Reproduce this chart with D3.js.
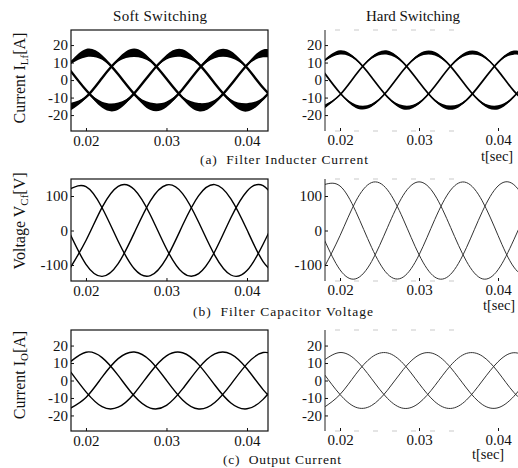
<!DOCTYPE html>
<meta charset="utf-8">
<style>
  body { margin: 0; background: #fff; }
  svg { display: block; }
  text { font-family: "Liberation Serif", "Times New Roman", "DejaVu Serif", serif; fill: #111; }
  .axis line { stroke: #111; }
  .title { font-size: 15px; }
  .caption { font-size: 13.5px; }
  .ylabel { font-size: 16px; }
  .tsec { font-size: 14.5px; }
</style>
<body>
<script src="https://d3js.org/d3.v7.min.js"></script>
<script>
  // sample times [s], values every 2 ms
  var times = [0.018, 0.020, 0.022, 0.024, 0.026, 0.028, 0.030, 0.032, 0.034, 0.036, 0.038, 0.040, 0.042, 0.044];

  // (a) filter inductor current [A]
  var softIlf = [
    [9.6, 15.4, 12.9, 3.3, -8.0, -15.0, -13.9, -5.2, 6.3, 14.4, 14.6, 7.0, -4.4, -13.5],
    [-15.4, -9.8, 1.2, 11.5, 15.6, 11.2, 0.7, -10.1, -15.5, -12.5, -2.7, 8.6, 15.2, 13.5],
    [5.8, -5.7, -14.1, -14.9, -7.6, 3.8, 13.1, 15.3, 9.2, -1.9, -12.0, -15.6, -10.7, -0.1]
  ];
  var hardIlf = [
    [11.1, 15.8, 11.9, 1.6, -9.6, -15.6, -13.1, -3.5, 8.0, 15.1, 14.1, 5.4, -6.2, -14.5],
    [-15.3, -8.4, 3.0, 12.8, 15.7, 10.0, -1.1, -11.6, -15.8, -11.5, -0.9, 10.1, 15.7, 12.7],
    [4.2, -7.4, -14.9, -14.4, -6.1, 5.6, 14.2, 15.1, 7.8, -3.7, -13.2, -15.6, -9.5, 1.7]
  ];
  // switching ripple of the inductor current at the peaks [A]
  var ilfRipple = [2.4, 1.2];

  // (b) filter capacitor voltage [V]
  var softVcf = [
    [120, 127, 66, -31, -111, -131, -80, 15, 101, 133, 92, 2, -90, -133],
    [-110, -29, 67, 128, 119, 45, -53, -122, -125, -61, 37, 114, 130, 75],
    [-9, -98, -133, -96, -7, 86, 132, 107, 24, -72, -129, -116, -40, 58]
  ];
  var hardVcf = [
    [133, 129, 55, -49, -126, -135, -71, 32, 117, 139, 86, -14, -106, -141],
    [-107, -15, 85, 139, 118, 33, -70, -135, -127, -50, 54, 129, 133, 66],
    [-26, -114, -140, -90, 8, 102, 141, 103, 9, -89, -140, -114, -27, 75]
  ];

  // (c) output current [A]
  var softIo = [
    [10.5, 16.2, 13.1, 2.9, -8.9, -15.8, -14.2, -4.8, 7.1, 15.2, 15.1, 6.7, -5.2, -14.4],
    [-16.0, -9.7, 1.9, 12.5, 16.3, 11.3, 0.1, -11.1, -16.3, -12.6, -2.2, 9.5, 16.0, 13.8],
    [5.5, -6.5, -15.0, -15.3, -7.4, 4.6, 14.1, 15.9, 9.1, -2.6, -12.9, -16.2, -10.8, 0.5]
  ];
  var hardIo = [
    [11.7, 16.0, 11.7, 1.0, -10.2, -15.9, -12.9, -3.0, 8.6, 15.5, 14.0, 4.9, -6.8, -14.9],
    [-15.3, -8.0, 3.6, 13.3, 15.8, 9.7, -1.7, -12.1, -16.0, -11.2, -0.3, 10.7, 15.9, 12.5],
    [3.6, -8.0, -15.3, -14.3, -5.6, 6.2, 14.6, 15.1, 7.4, -4.3, -13.7, -15.6, -9.1, 2.3]
  ];

  var currentTicks = [-20, -10, 0, 10, 20];
  var voltageTicks = [-100, 0, 100];
  var timeTicks = [0.02, 0.03, 0.04];

  var titles = ["Soft Switching", "Hard Switching"];
  var captions = ["(a)  Filter Inducter Current", "(b)  Filter Capacitor Voltage", "(c)  Output Current"];

  var rows = [
    {top: 30, bottom: 131, yDomain: [-29.1, 28.6], yTicks: currentTicks, series: [softIlf, hardIlf], ripple: ilfRipple,
     width: [2.4, 1.7], color: ["#000", "#000"],
     label: ["Current I", "Lf", "[A]"], labelY: 78,
     capX: 200, capY: 164, capW: 168, tX: 481, tY: 161},
    {top: 179, bottom: 281, yDomain: [-146.4, 149.3], yTicks: voltageTicks, series: [softVcf, hardVcf], ripple: null,
     width: [1.4, 1.0], color: ["#000", "#333"],
     label: ["Voltage V", "Cf", "[V]"], labelY: 221,
     capX: 193, capY: 316, capW: 180, tX: 483, tY: 310},
    {top: 330, bottom: 431, yDomain: [-28.9, 28.9], yTicks: currentTicks, series: [softIo, hardIo], ripple: null,
     width: [1.4, 1.0], color: ["#000", "#333"],
     label: ["Current I", "O", "[A]"], labelY: 375,
     capX: 223, capY: 464, capW: 118, tX: 472, tY: 459}
  ];

  var cols = [
    {left: 71, right: 268, xDomain: [0.01814, 0.04261], framed: true, titleX: 160, pad: 4.3},
    {left: 325, right: 518, xDomain: [0.0181, 0.04253], framed: false, titleX: 413, pad: 3.3}
  ];

  var svg = d3.select("body").append("svg")
          .attr("width", 518)
          .attr("height", 468);

  cols.forEach(function (c, ci) {
    svg.append("text").attr("class", "title")
            .attr("x", c.titleX).attr("y", 21)
            .attr("text-anchor", "middle")
            .attr("textLength", 94).attr("lengthAdjust", "spacing")
            .text(titles[ci]);
  });

  rows.forEach(function (row, ri) {
    cols.forEach(function (col, ci) {
      var x = d3.scaleLinear().domain(col.xDomain).range([col.left, col.right]);
      var y = d3.scaleLinear().domain(row.yDomain).range([row.bottom, row.top]);

      var id = "clip" + ri + ci;
      svg.append("clipPath").attr("id", id).append("rect")
              .attr("x", col.left).attr("y", row.top)
              .attr("width", col.right - col.left).attr("height", row.bottom - row.top);
      var g = svg.append("g").attr("clip-path", "url(#" + id + ")");

      var data = row.series[ci];
      var peak = d3.max(data, function (s) { return d3.max(s, function (v) { return Math.abs(v); }); });
      var rip = row.ripple ? row.ripple[ci] : 0;

      data.forEach(function (s) {
        var pts = s.map(function (v, i) {
          return {t: times[i], v: v, r: rip * Math.pow(Math.abs(v) / peak, 3)};
        });
        if (rip) {
          g.append("path").datum(pts)
                  .attr("fill", "#000")
                  .attr("d", d3.area().curve(d3.curveNatural)
                          .x(function (d) { return x(d.t); })
                          .y0(function (d) { return y(d.v - d.r); })
                          .y1(function (d) { return y(d.v + d.r); }));
        }
        g.append("path").datum(pts)
                .attr("fill", "none")
                .attr("stroke", row.color[ci])
                .attr("stroke-width", row.width[ci])
                .attr("d", d3.line().curve(d3.curveNatural)
                        .x(function (d) { return x(d.t); })
                        .y(function (d) { return y(d.v); }));
      });

      // frame
      if (col.framed) {
        svg.append("rect")
                .attr("x", col.left).attr("y", row.top)
                .attr("width", col.right - col.left).attr("height", row.bottom - row.top)
                .attr("fill", "none").attr("stroke", "#111").attr("stroke-width", 1.2);
      } else {
        svg.append("line")
                .attr("x1", col.left).attr("x2", col.left)
                .attr("y1", row.top).attr("y2", row.bottom)
                .attr("stroke", "#222").attr("stroke-width", 1);
        [row.top, row.bottom].forEach(function (yy) {
          svg.append("line")
                  .attr("x1", col.left + 10).attr("x2", col.right - 60)
                  .attr("y1", yy).attr("y2", yy)
                  .attr("stroke", "#bbb").attr("stroke-width", 0.8)
                  .attr("stroke-dasharray", "5 14");
        });
      }

      var ya = svg.append("g").attr("class", "axis")
              .attr("transform", "translate(" + col.left + ",0)")
              .call(d3.axisLeft(y).tickValues(row.yTicks).tickSize(-3).tickPadding(3)
                      .tickFormat(function (d) { return String(d); }));
      ya.select(".domain").remove();
      ya.attr("font-family", null).attr("font-size", 15);

      var xa = svg.append("g").attr("class", "axis")
              .attr("transform", "translate(0," + row.bottom + ")")
              .call(d3.axisBottom(x).tickValues(timeTicks).tickSize(-3).tickPadding(col.pad)
                      .tickFormat(d3.format(".2f")));
      xa.select(".domain").remove();
      xa.attr("font-family", null).attr("font-size", 15);
    });

    // y label
    var lab = svg.append("text").attr("class", "ylabel")
            .attr("transform", "translate(25," + row.labelY + ") rotate(-90)")
            .attr("text-anchor", "middle");
    lab.append("tspan").text(row.label[0]);
    lab.append("tspan").attr("dy", 3).attr("font-size", "11px").text(row.label[1]);
    lab.append("tspan").attr("dy", -3).text(row.label[2]);

    svg.append("text").attr("class", "caption")
            .attr("x", row.capX).attr("y", row.capY)
            .attr("textLength", row.capW).attr("lengthAdjust", "spacing")
            .style("white-space", "pre")
            .text(captions[ri]);

    svg.append("text").attr("class", "tsec")
            .attr("x", row.tX).attr("y", row.tY)
            .text("t[sec]");
  });
</script>
</body>
